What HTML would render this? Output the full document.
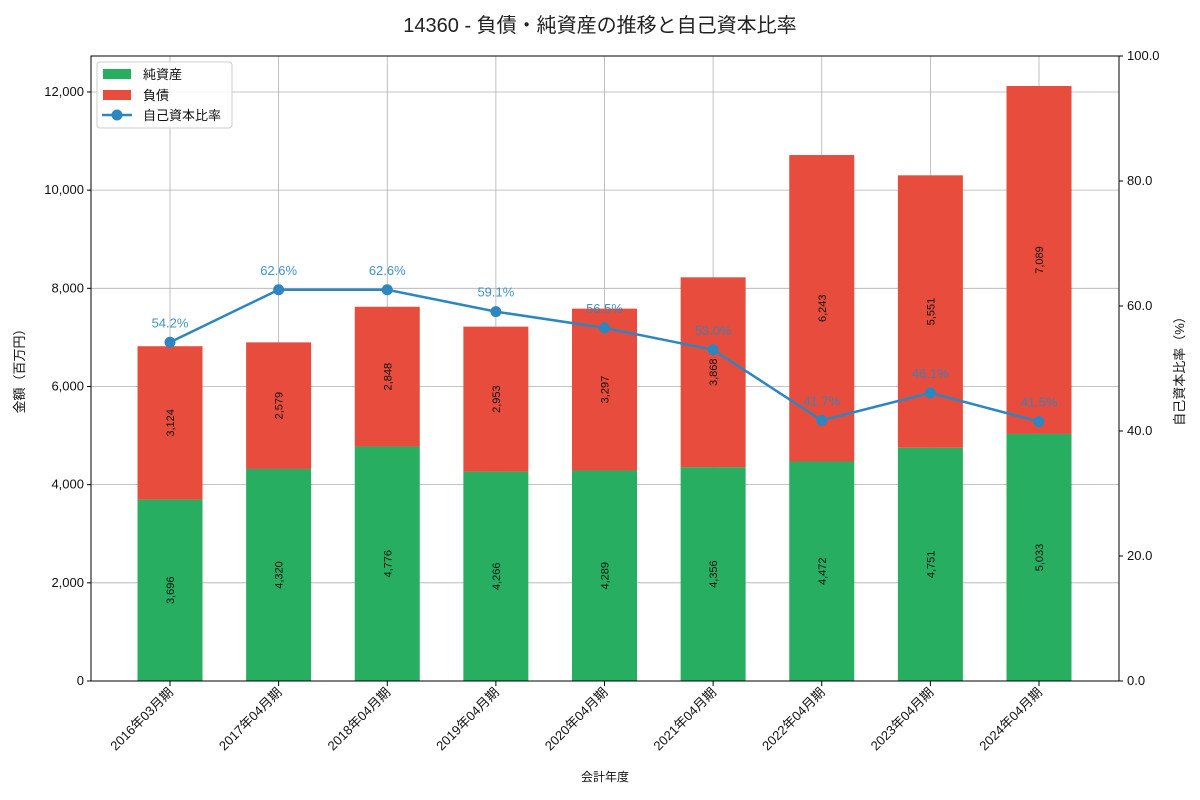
<!DOCTYPE html>
<html><head><meta charset="utf-8"><style>
body{margin:0;background:#fff;}
svg{display:block;font-family:"Liberation Sans","Noto Sans CJK JP",sans-serif;}
</style></head><body>
<svg id="c" width="1200" height="800" viewBox="0 0 1200 800">
<text x="600" y="32" text-anchor="middle" font-size="20" fill="#222">14360 - 負債・純資産の推移と自己資本比率</text>
<g id="grid"></g>
<g id="bars"></g>
<g id="line"></g>
<g id="axes"></g>
<text transform="translate(24,368) rotate(-90)" text-anchor="middle" font-size="13" fill="#111">金額（百万円）</text>
<text transform="translate(1184,368) rotate(-90)" text-anchor="middle" font-size="13" fill="#111">自己資本比率（%）</text>
<text x="605" y="781" text-anchor="middle" font-size="12" fill="#111">会計年度</text>
<g>
<rect x="97" y="62" width="135" height="66" fill="#fff" fill-opacity="0.85" stroke="#ccc" rx="3"/>
<rect x="103" y="69" width="28" height="10" fill="#27ae60"/>
<text x="143" y="79" font-size="13" fill="#111">純資産</text>
<rect x="103" y="90" width="28" height="10" fill="#e74c3c"/>
<text x="143" y="100" font-size="13" fill="#111">負債</text>
<line x1="102" y1="115" x2="132" y2="115" stroke="#2e86c1" stroke-width="2.5"/>
<circle cx="117" cy="115" r="5.5" fill="#2e86c1"/>
<text x="143" y="120" font-size="13" fill="#111">自己資本比率</text>
</g>
</svg>
<script>
const categories=["2016年03月期","2017年04月期","2018年04月期","2019年04月期","2020年04月期","2021年04月期","2022年04月期","2023年04月期","2024年04月期"];
const equity=[3696,4320,4776,4266,4289,4356,4472,4751,5033];
const debt=[3124,2579,2848,2953,3297,3868,6243,5551,7089];
const ratio=[54.2,62.6,62.6,59.1,56.5,53.0,41.7,46.1,41.5];
const yTicks=[0,2000,4000,6000,8000,10000,12000];
const y2Ticks=[0,20,40,60,80,100];
const NS="http://www.w3.org/2000/svg";
const L=91,R=1119,T=56,B=681;
const yMax=12733;
const x=i=>170+i*((1039-170)/(categories.length-1));
const y=v=>B-v/yMax*(B-T);
const y2=v=>B-v/100*(B-T);
const bw=65;
function mk(p,tag,a){const e=document.createElementNS(NS,tag);for(const k in a)e.setAttribute(k,a[k]);p.appendChild(e);return e;}
const grid=document.getElementById('grid'),bars=document.getElementById('bars'),line=document.getElementById('line'),axes=document.getElementById('axes');
yTicks.forEach(v=>{const g=mk(grid,'line',{x1:L,x2:R,y1:y(v),y2:y(v),stroke:'#b0b0b0','stroke-width':0.8});


const t=mk(axes,'text',{x:L-7,y:y(v)+4,'text-anchor':'end','font-size':13,fill:'#111'});t.textContent=v.toLocaleString('en-US');


mk(axes,'line',{x1:L-4,x2:L,y1:y(v),y2:y(v),stroke:'#000'});});
y2Ticks.forEach(v=>{const t=mk(axes,'text',{x:R+8,y:y2(v)+4,'font-size':13,fill:'#111'});t.textContent=v.toFixed(1);


mk(axes,'line',{x1:R,x2:R+4,y1:y2(v),y2:y2(v),stroke:'#000'});});
categories.forEach((c,i)=>{const g=mk(grid,'line',{x1:x(i),x2:x(i),y1:T,y2:B,stroke:'#b0b0b0','stroke-width':0.8});


const e=mk(bars,'rect',{x:x(i)-bw/2,y:y(equity[i]),width:bw,height:B-y(equity[i]),fill:'#27ae60'});


const d=mk(bars,'rect',{x:x(i)-bw/2,y:y(equity[i]+debt[i]),width:bw,height:y(equity[i])-y(equity[i]+debt[i]),fill:'#e74c3c'});


[[equity[i],(y(0)+y(equity[i]))/2],[debt[i],(y(equity[i])+y(equity[i]+debt[i]))/2]].forEach(([v,cy])=>{
const t=mk(bars,'text',{transform:`translate(${x(i)+4},${cy}) rotate(-90)`,'text-anchor':'middle','font-size':11,fill:'#111'});t.textContent=v.toLocaleString('en-US');

});
mk(axes,'line',{x1:x(i),x2:x(i),y1:B,y2:B+5,stroke:'#000'});
const t=mk(axes,'text',{transform:`translate(${x(i)+4},${B+12}) rotate(-45)`,'text-anchor':'end','font-size':13,fill:'#111'});t.textContent=c;

});
const p=mk(line,'polyline',{points:ratio.map((v,i)=>x(i)+','+y2(v)).join(' '),fill:'none',stroke:'#2e86c1','stroke-width':2.5});


ratio.forEach((v,i)=>{const c=mk(line,'circle',{cx:x(i),cy:y2(v),r:5.5,fill:'#2e86c1'});


const t=mk(line,'text',{x:x(i),y:y2(v)-15,'text-anchor':'middle','font-size':13,fill:'#2e86c1','fill-opacity':0.9});t.textContent=v.toFixed(1)+'%';

});
mk(axes,'rect',{x:L,y:T,width:R-L,height:B-T,fill:'none',stroke:'#000','stroke-width':1});
</script>
</body></html>
